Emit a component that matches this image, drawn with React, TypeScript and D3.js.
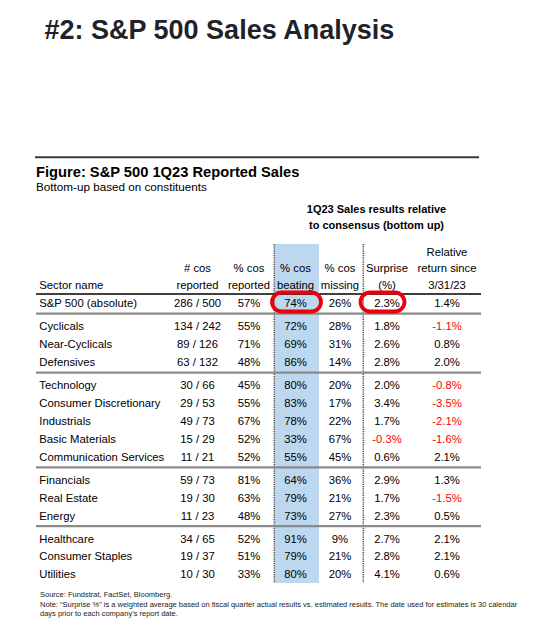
import React from "react";
import * as d3 from "d3";

const sectors = [
  "S&P 500 (absolute)",
  "Cyclicals",
  "Near-Cyclicals",
  "Defensives",
  "Technology",
  "Consumer Discretionary",
  "Industrials",
  "Basic Materials",
  "Communication Services",
  "Financials",
  "Real Estate",
  "Energy",
  "Healthcare",
  "Consumer Staples",
  "Utilities",
];
const groups = [0, 1, 1, 1, 2, 2, 2, 2, 2, 3, 3, 3, 4, 4, 4];
const reportedCount = [286, 134, 89, 63, 30, 29, 49, 15, 11, 59, 19, 11, 34, 19, 10];
const totalCount = [500, 242, 126, 132, 66, 53, 73, 29, 21, 73, 30, 23, 65, 37, 30];
const pctReported = [57, 55, 71, 48, 45, 55, 67, 52, 52, 81, 63, 48, 52, 51, 33];
const pctBeating = [74, 72, 69, 86, 80, 83, 78, 33, 55, 64, 79, 73, 91, 79, 80];
const pctMissing = [26, 28, 31, 14, 20, 17, 22, 67, 45, 36, 21, 27, 9, 21, 20];
const surprise = [2.3, 1.8, 2.6, 2.8, 2.0, 3.4, 1.7, -0.3, 0.6, 2.9, 1.7, 2.3, 2.7, 2.8, 4.1];
const relReturn = [1.4, -1.1, 0.8, 2.0, -0.8, -3.5, -2.1, -1.6, 2.1, 1.3, -1.5, 0.5, 2.1, 2.1, 0.6];

const columnKeys = ["name", "count", "reported", "beating", "missing", "surprise", "relative"];
const headerLines = [
  ["", "", "", "", "", "", "Relative"],
  ["", "# cos", "% cos", "% cos", "% cos", "Surprise", "return since"],
  ["Sector name", "reported", "reported", "beating", "missing", "(%)", "3/31/23"],
];
const highlightedRow = 0;
const highlightedCols = ["beating", "surprise"];

const pageTitle = "#2: S&P 500 Sales Analysis";
const figTitle = "Figure: S&P 500 1Q23 Reported Sales";
const figSubtitle = "Bottom-up based on constituents";
const spanTitle = ["1Q23 Sales results relative", "to consensus (bottom up)"];
const notes = [
  "Source: Fundstrat, FactSet, Bloomberg.",
  "Note: \u201cSurprise %\u201d is a weighted average based on fiscal quarter actual results vs. estimated results.  The date used for estimates is 30 calendar",
  "days prior to each company\u2019s report date.",
];

const FONT = "'Liberation Sans', Arial, Helvetica, sans-serif";

const locale = d3.formatLocale({
  decimal: ".",
  thousands: ",",
  grouping: [3],
  currency: ["$", ""],
  minus: "-",
});

export default function App() {
  const W = 540;
  const H = 644;
  const left = 36;
  const right = 481;

  // column centres
  const colX = d3
    .scaleOrdinal<string, number>()
    .domain(columnKeys)
    .range([39.3, 197.5, 249, 295.5, 340, 387, 447]);

  const rowStep = 17.9;
  const groupGap = 5.1;
  const rowY = d3.scaleLinear().domain([0, 1]).range([307.3, 307.3 + rowStep]);
  const baseline = (i: number) => rowY(i) + groups[i] * groupGap;

  const headerY = d3.scaleLinear().domain([0, 2]).range([255.8, 288.8]);

  const fmtPct = (v: number) => `${locale.format("d")(v)}%`;
  const fmtDec = (v: number) => `${locale.format(".1f")(v)}%`;

  const tableTop = 244;
  const tableBottom = 583;
  const blueX0 = 274.5;
  const blueX1 = 319;

  const sepYs: number[] = [];
  for (let i = 0; i < sectors.length - 1; i++) {
    if (groups[i] !== groups[i + 1]) sepYs.push(baseline(i) + (i === 0 ? 6.3 : 6.6));
  }

  const fs = 11.3;
  const cellProps = {
    fontFamily: FONT,
    fontSize: fs,
  };

  const rowCells = (i: number) => [
    { key: "count", text: `${reportedCount[i]} / ${totalCount[i]}`, neg: false },
    { key: "reported", text: fmtPct(pctReported[i]), neg: false },
    { key: "beating", text: fmtPct(pctBeating[i]), neg: false },
    { key: "missing", text: fmtPct(pctMissing[i]), neg: false },
    { key: "surprise", text: fmtDec(surprise[i]), neg: surprise[i] < 0 },
    { key: "relative", text: fmtDec(relReturn[i]), neg: relReturn[i] < 0 },
  ];

  const hlWidths: Record<string, number> = { beating: 49, surprise: 44 };
  const hlCenters: Record<string, number> = { beating: 296.5, surprise: 382.5 };

  return (
    <svg
      width={W}
      height={H}
      viewBox={`0 0 ${W} ${H}`}
      style={{ position: "absolute", left: 0, top: 0, background: "#fff" }}
    >
      <rect x={0} y={0} width={W} height={H} fill="#fff" />
      <text x={44.5} y={38.5} fontFamily={FONT} fontWeight="bold" fontSize={27} fill="#1f2329">
        {pageTitle}
      </text>

      <line x1={35} x2={479} y1={157.3} y2={157.3} stroke="#3a3a3a" strokeWidth={2} />
      <text x={36} y={177} fontFamily={FONT} fontWeight="bold" fontSize={14.7} fill="#000">
        {figTitle}
      </text>
      <text x={36} y={190.5} fontFamily={FONT} fontSize={11.7} fill="#000">
        {figSubtitle}
      </text>
      {spanTitle.map((t, k) => (
        <text
          key={t}
          x={376.5}
          y={213.3 + k * 15.2}
          textAnchor="middle"
          fontFamily={FONT}
          fontWeight="bold"
          fontSize={11}
          fill="#000"
        >
          {t}
        </text>
      ))}

      <rect x={blueX0} y={tableTop} width={blueX1 - blueX0} height={tableBottom - tableTop} fill="#bdd7ee" />

      {[274.3, 363.3].map((x) => (
        <line
          key={x}
          x1={x}
          x2={x}
          y1={tableTop}
          y2={tableBottom}
          stroke="#555"
          strokeWidth={1.6}
          strokeDasharray="1.2 1"
        />
      ))}

      {headerLines.map((line, r) =>
        line.map((t, c) =>
          t ? (
            <text
              key={`h${r}-${c}`}
              x={colX(columnKeys[c])}
              y={headerY(r)}
              textAnchor={c === 0 ? "start" : "middle"}
              {...cellProps}
              fill="#000"
            >
              {t}
            </text>
          ) : null
        )
      )}
      <line x1={left} x2={right} y1={294} y2={294} stroke="#000" strokeWidth={1.6} />

      {sepYs.map((y) => (
        <line key={y} x1={left} x2={right} y1={y} y2={y} stroke="#8a8a8a" strokeWidth={2.2} />
      ))}

      {sectors.map((s, i) => (
        <g key={s}>
          <text x={colX("name")} y={baseline(i)} {...cellProps} fill="#000">
            {s}
          </text>
          {rowCells(i).map((c) => (
            <text
              key={c.key}
              x={colX(c.key)}
              y={baseline(i)}
              textAnchor="middle"
              {...cellProps}
              fill={c.neg ? "#ff0000" : "#000"}
            >
              {c.text}
            </text>
          ))}
        </g>
      ))}

      {highlightedCols.map((k) => (
        <rect
          key={k}
          x={hlCenters[k] - hlWidths[k] / 2}
          y={baseline(highlightedRow) - 14.8}
          width={hlWidths[k]}
          height={19}
          rx={9.5}
          ry={9.5}
          fill="none"
          stroke="#e8000b"
          strokeWidth={3.8}
        />
      ))}

      {notes.map((t, k) => (
        <text key={k} x={40} y={597 + k * 9.6} fontFamily={FONT} fontSize={7.5} fill="#222">
          {t}
        </text>
      ))}
    </svg>
  );
}
